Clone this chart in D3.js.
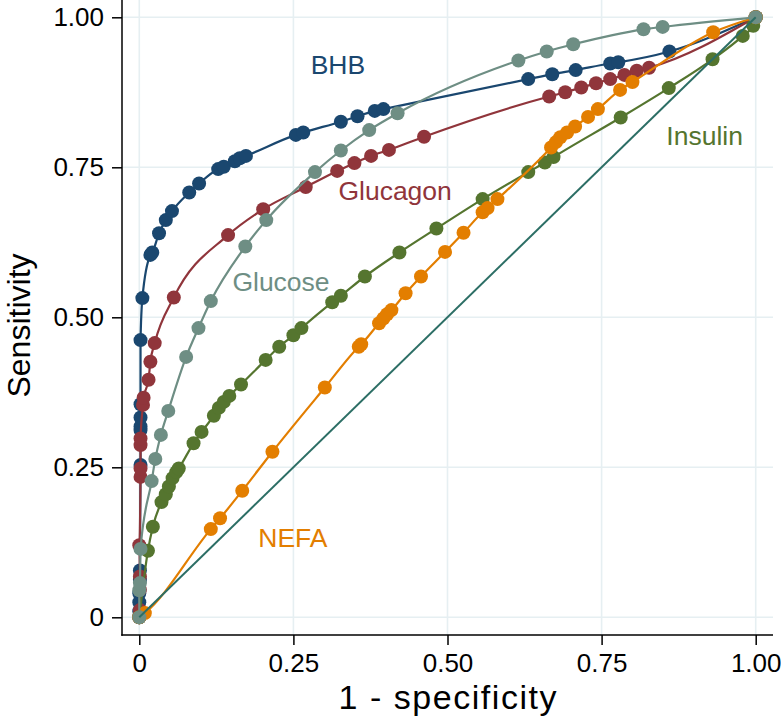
<!DOCTYPE html>
<html>
<head>
<meta charset="utf-8">
<script src="https://cdn.jsdelivr.net/npm/d3@7"></script>
<style>
  html, body { margin: 0; padding: 0; background: #fff; }
  #svg-container { width: 781px; height: 718px; }
  text { font-family: "Liberation Sans", Arial, Helvetica, sans-serif; }
</style>
</head>
<body>
<div id="svg-container"></div>
<script>
////////////////////////////////////////////////////////////////////
////////////////////////////  Data  ////////////////////////////////
// [1 - specificity, sensitivity]
const bhb = [
  [0, 0], [0, 0.01], [0, 0.025], [0, 0.04], [0.001, 0.062], [0.001, 0.078],
  [0.002, 0.254], [0.002, 0.312], [0.002, 0.318], [0.002, 0.333], [0.002, 0.355],
  [0.002, 0.462], [0.005, 0.532], [0.018, 0.604], [0.021, 0.608], [0.032, 0.64],
  [0.043, 0.662], [0.053, 0.677], [0.081, 0.708], [0.097, 0.723], [0.128, 0.747],
  [0.137, 0.751], [0.155, 0.76], [0.163, 0.765], [0.173, 0.769], [0.254, 0.804],
  [0.266, 0.808], [0.327, 0.826], [0.354, 0.835], [0.382, 0.844], [0.396, 0.847],
  [0.631, 0.897], [0.67, 0.905], [0.708, 0.912], [0.764, 0.923], [0.777, 0.925],
  [0.86, 0.943], [1, 1]
];
const glucagon = [
  [0, 0], [0.001, 0.012], [0.001, 0.046], [0.001, 0.068], [0, 0.12], [0.002, 0.234],
  [0.002, 0.248], [0.002, 0.287], [0.002, 0.298], [0.006, 0.354], [0.007, 0.366],
  [0.015, 0.396], [0.018, 0.426], [0.025, 0.457], [0.056, 0.533], [0.144, 0.637],
  [0.201, 0.68], [0.27, 0.717], [0.321, 0.744], [0.349, 0.757], [0.376, 0.769],
  [0.405, 0.779], [0.462, 0.801], [0.665, 0.868], [0.691, 0.875], [0.717, 0.883],
  [0.741, 0.89], [0.764, 0.897], [0.787, 0.904], [0.807, 0.911], [0.827, 0.916], [1, 1]
];
const glucose = [
  [0, 0], [0, 0.045], [0.001, 0.057], [0.002, 0.114], [0.02, 0.227], [0.026, 0.264],
  [0.035, 0.304], [0.047, 0.344], [0.076, 0.434], [0.096, 0.482], [0.116, 0.527],
  [0.172, 0.618], [0.206, 0.662], [0.285, 0.742], [0.327, 0.778], [0.373, 0.812],
  [0.419, 0.84], [0.615, 0.928], [0.661, 0.943], [0.704, 0.955], [0.818, 0.98],
  [0.849, 0.984], [1, 1]
];
const insulin = [
  [0, 0], [0.014, 0.111], [0.022, 0.151], [0.036, 0.192], [0.043, 0.205], [0.048, 0.218],
  [0.054, 0.232], [0.06, 0.242], [0.064, 0.248], [0.088, 0.29], [0.101, 0.309],
  [0.121, 0.336], [0.129, 0.349], [0.137, 0.359], [0.146, 0.369], [0.165, 0.388],
  [0.205, 0.429], [0.227, 0.451], [0.25, 0.47], [0.263, 0.482], [0.313, 0.525],
  [0.327, 0.536], [0.366, 0.568], [0.422, 0.608], [0.482, 0.648], [0.557, 0.697],
  [0.631, 0.742], [0.658, 0.758], [0.672, 0.767], [0.781, 0.833], [0.859, 0.882],
  [0.93, 0.93], [0.979, 0.969], [0.996, 0.986], [1, 1]
];
const nefa = [
  [0, 0], [0.009, 0.007], [0.116, 0.147], [0.131, 0.165], [0.167, 0.211], [0.216, 0.276],
  [0.301, 0.383], [0.356, 0.451], [0.36, 0.455], [0.389, 0.49], [0.396, 0.498],
  [0.402, 0.505], [0.409, 0.512], [0.432, 0.54], [0.457, 0.568], [0.496, 0.609],
  [0.526, 0.641], [0.557, 0.675], [0.565, 0.682], [0.581, 0.697], [0.668, 0.783],
  [0.676, 0.792], [0.683, 0.8], [0.694, 0.808], [0.707, 0.818], [0.728, 0.834],
  [0.744, 0.847], [0.78, 0.879], [0.8, 0.892], [0.931, 0.975], [1, 1]
];
const reference = [[0, 0], [1, 1]];

const tickValues = [0, 0.25, 0.5, 0.75, 1];

// drawing order, label value position
const series = [
  { name: "BHB", values: bhb, color: "#1a476f", label: [0.278, 0.905] },
  { name: "Glucagon", values: glucagon, color: "#90353b", label: [0.323, 0.695] },
  { name: "Insulin", values: insulin, color: "#55752f", label: [0.855, 0.787] },
  { name: "NEFA", values: nefa, color: "#e37e00", label: [0.193, 0.118] },
  { name: "Glucose", values: glucose, color: "#6e8e84", label: [0.151, 0.544] }
];

////////////////////////////////////////////////////////////////////
////////////////////////////  Init  ///////////////////////////////
const width = 781;
const height = 718;

const svg = d3
  .select("#svg-container")
  .append("svg")
  .attr("width", width)
  .attr("height", height);

// plot region (axis lines) and data range inside it
const region = { left: 122, right: 773, top: 0, bottom: 635 };

const x = d3.scaleLinear().domain([0, 1]).range([139.3, 755.7]);
const y = d3.scaleLinear().domain([0, 1]).range([617.3, 17.3]);

const fmt = (d) => (d === 0 ? "0" : d3.format(".2f")(d));

// grid
svg
  .append("g")
  .selectAll("line")
  .data(tickValues)
  .join("line")
  .attr("x1", region.left)
  .attr("x2", region.right)
  .attr("y1", (d) => y(d))
  .attr("y2", (d) => y(d))
  .attr("stroke", "#e6eff2")
  .attr("stroke-width", 1.6);

svg
  .append("g")
  .selectAll("line")
  .data(tickValues)
  .join("line")
  .attr("x1", (d) => x(d))
  .attr("x2", (d) => x(d))
  .attr("y1", region.top)
  .attr("y2", region.bottom)
  .attr("stroke", "#e6eff2")
  .attr("stroke-width", 1.6);

// axes
const yAxis = svg
  .append("g")
  .attr("transform", `translate(${region.left},0)`)
  .call(d3.axisLeft(y).tickValues(tickValues).tickFormat(fmt).tickSize(10).tickPadding(8));

const xAxis = svg
  .append("g")
  .attr("transform", `translate(0,${region.bottom})`)
  .call(d3.axisBottom(x).tickValues(tickValues).tickFormat(fmt).tickSize(10).tickPadding(9));

[yAxis, xAxis].forEach((g) => {
  g.select(".domain").remove();
  g.selectAll(".tick line").attr("stroke", "#000").attr("stroke-width", 1.5);
  g.selectAll(".tick text")
    .attr("fill", "#000")
    .style("font-size", "26px")
    .style("font-family", '"Liberation Sans", Arial, sans-serif');
});

svg
  .append("line")
  .attr("x1", region.left)
  .attr("x2", region.left)
  .attr("y1", region.top)
  .attr("y2", region.bottom + 0.75)
  .attr("stroke", "#000")
  .attr("stroke-width", 1.5);

svg
  .append("line")
  .attr("x1", region.left - 0.75)
  .attr("x2", region.right)
  .attr("y1", region.bottom)
  .attr("y2", region.bottom)
  .attr("stroke", "#000")
  .attr("stroke-width", 1.5);

// axis titles
svg
  .append("text")
  .attr("x", (region.left + region.right) / 2)
  .attr("y", 709)
  .attr("text-anchor", "middle")
  .attr("textLength", 218)
  .attr("lengthAdjust", "spacing")
  .style("font-size", "34px")
  .text("1 - specificity");

svg
  .append("text")
  .attr("transform", `translate(30,${(region.top + region.bottom) / 2 + 8}) rotate(-90)`)
  .attr("text-anchor", "middle")
  .style("font-size", "32px")
  .text("Sensitivity");

////////////////////////////////////////////////////////////////////
////////////////////////////  Curves  //////////////////////////////
const line = d3
  .line()
  .x((d) => x(d[0]))
  .y((d) => y(d[1]))
  .curve(d3.curveMonotoneX);

const curves = svg
  .selectAll(".curve")
  .data(series)
  .join("g")
  .attr("class", "curve");

curves
  .append("path")
  .attr("d", (d) => line(d.values))
  .attr("fill", "none")
  .attr("stroke", (d) => d.color)
  .attr("stroke-width", 2.2);

curves
  .selectAll("circle")
  .data((d) => d.values.map((v) => ({ v, color: d.color })))
  .join("circle")
  .attr("cx", (d) => x(d.v[0]))
  .attr("cy", (d) => y(d.v[1]))
  .attr("r", 7)
  .attr("fill", (d) => d.color);

// reference line
svg
  .append("path")
  .attr("d", d3.line().x((d) => x(d[0])).y((d) => y(d[1]))(reference))
  .attr("fill", "none")
  .attr("stroke", "#2c6e65")
  .attr("stroke-width", 2);

// labels
svg
  .selectAll(".label")
  .data(series)
  .join("text")
  .attr("class", "label")
  .attr("x", (d) => x(d.label[0]))
  .attr("y", (d) => y(d.label[1]))
  .attr("fill", (d) => d.color)
  .style("font-size", "26.5px")
  .text((d) => d.name);
</script>
</body>
</html>
